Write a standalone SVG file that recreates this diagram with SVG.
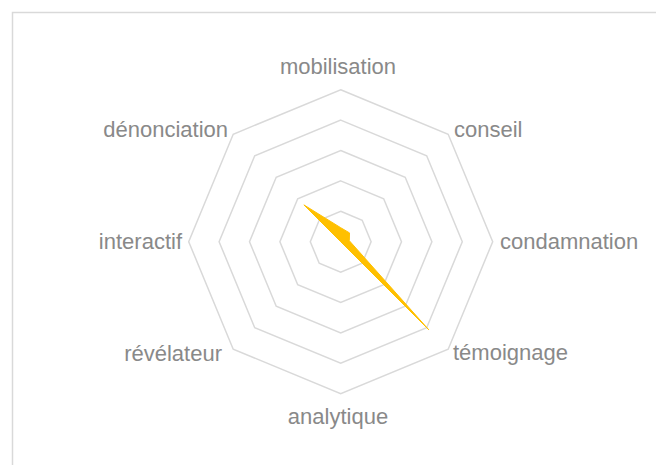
<svg xmlns="http://www.w3.org/2000/svg" width="656" height="465" viewBox="0 0 656 465">
  <style>
    .ring { fill: none; stroke: #d9d9d9; stroke-width: 1.5; stroke-linejoin: miter; }
    .lbl { font-family: "Liberation Sans", Arial, sans-serif; font-size: 22px; fill: #898989; }
    .series { fill: #ffc000; stroke: #ffc000; stroke-width: 1; stroke-linejoin: miter; }
  </style>
  <rect x="0" y="0" width="656" height="465" fill="#ffffff"/>
  <rect x="12.5" y="12.5" width="700" height="500" fill="none" stroke="#d9d9d9" stroke-width="1.5"/>
  <g id="grid" transform="translate(340.7,241.7)">
    <polygon class="ring" points="0,-30.4 21.5,-21.5 30.4,0 21.5,21.5 0,30.4 -21.5,21.5 -30.4,0 -21.5,-21.5"/>
    <polygon class="ring" points="0,-60.8 42.99,-42.99 60.8,0 42.99,42.99 0,60.8 -42.99,42.99 -60.8,0 -42.99,-42.99"/>
    <polygon class="ring" points="0,-91.2 64.49,-64.49 91.2,0 64.49,64.49 0,91.2 -64.49,64.49 -91.2,0 -64.49,-64.49"/>
    <polygon class="ring" points="0,-121.6 85.98,-85.98 121.6,0 85.98,85.98 0,121.6 -85.98,85.98 -121.6,0 -85.98,-85.98"/>
    <polygon class="ring" points="0,-152 107.48,-107.48 152,0 107.48,107.48 0,152 -107.48,107.48 -152,0 -107.48,-107.48"/>
  </g>
  <g id="series" transform="translate(340.7,241.7)">
    <polygon class="series" points="0,-14 8.8,-8.8 8.6,-1 88.1,88.1 0,0 0,0 0,0 -36.8,-36.8"/>
  </g>
  <g id="labels">
    <g id="axis-mobilisation"><text class="lbl" x="338" y="74" text-anchor="middle">mobilisation</text></g>
    <g id="axis-conseil"><text class="lbl" x="454" y="137">conseil</text></g>
    <g id="axis-condamnation"><text class="lbl" x="500" y="249">condamnation</text></g>
    <g id="axis-temoignage"><text class="lbl" x="453" y="360">témoignage</text></g>
    <g id="axis-analytique"><text class="lbl" x="338" y="424" text-anchor="middle">analytique</text></g>
    <g id="axis-revelateur"><text class="lbl" x="222" y="361" text-anchor="end">révélateur</text></g>
    <g id="axis-interactif"><text class="lbl" x="182" y="249" text-anchor="end">interactif</text></g>
    <g id="axis-denonciation"><text class="lbl" x="228" y="137" text-anchor="end">dénonciation</text></g>
  </g>
</svg>
